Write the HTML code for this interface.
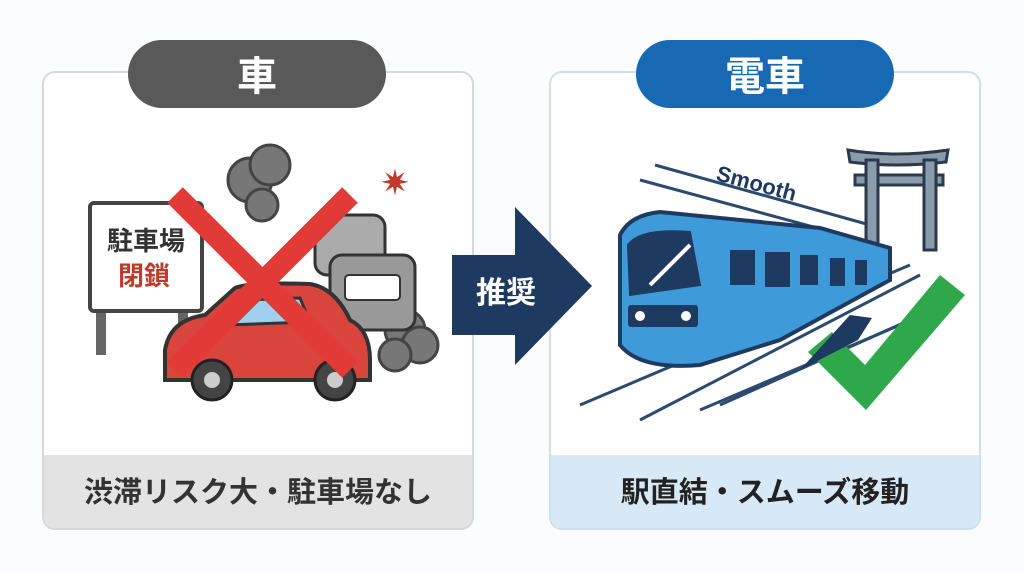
<!DOCTYPE html>
<html><head><meta charset="utf-8"><style>
html,body{margin:0;padding:0;background:#fff;}
body{width:1024px;height:572px;overflow:hidden;position:relative;font-family:"Liberation Sans","Noto Sans CJK JP",sans-serif;}
svg{position:absolute;left:0;top:0;}
</style></head><body>
<svg width="1024" height="572" viewBox="0 0 1024 572" xmlns="http://www.w3.org/2000/svg" font-family="Liberation Sans, Noto Sans CJK JP, sans-serif">
<rect width="1024" height="572" fill="#fbfcfd"/>
<!-- left panel -->
<rect x="43" y="72" width="430" height="457" rx="12" fill="#fff" stroke="#d8d8d8" stroke-width="2"/>
<path d="M44 455 H472 V517 a11 11 0 0 1 -11 11 H55 a11 11 0 0 1 -11 -11 Z" fill="#e3e3e3"/>
<text x="258" y="502" font-size="29" font-weight="bold" fill="#333" text-anchor="middle">渋滞リスク大・駐車場なし</text>
<rect x="128" y="40" width="258" height="68" rx="34" fill="#595959"/>
<text x="257" y="90" font-size="40" font-weight="bold" fill="#fff" text-anchor="middle">車</text>
<!-- sign -->
<rect x="96" y="300" width="10" height="55" fill="#666"/><rect x="178" y="300" width="10" height="55" fill="#666"/>
<rect x="90" y="203" width="112" height="108" rx="4" fill="#fff" stroke="#444" stroke-width="4"/>
<text x="146" y="250" font-size="26" font-weight="bold" fill="#333" text-anchor="middle">駐車場</text>
<text x="144" y="285" font-size="26" font-weight="bold" fill="#c0392b" text-anchor="middle">閉鎖</text>
<!-- smoke -->
<g fill="#777" stroke="#444" stroke-width="3">
<circle cx="250" cy="180" r="22"/><circle cx="270" cy="165" r="20"/><circle cx="262" cy="205" r="16"/>
<circle cx="405" cy="330" r="20"/><circle cx="420" cy="345" r="18"/><circle cx="395" cy="355" r="16"/>
</g>
<text x="395" y="195" font-size="36" fill="#c0392b" text-anchor="middle">✷</text>
<!-- back cars -->
<rect x="315" y="215" width="70" height="60" rx="12" fill="#aaa" stroke="#333" stroke-width="3"/>
<rect x="330" y="255" width="85" height="75" rx="12" fill="#999" stroke="#333" stroke-width="3"/>
<rect x="345" y="275" width="55" height="25" rx="4" fill="#fff" stroke="#333" stroke-width="2"/>
<!-- red car -->
<path d="M165 350 Q170 320 205 315 L235 288 Q250 282 310 284 Q335 288 350 320 Q370 330 370 360 L370 380 L165 380 Z" fill="#d9443c" stroke="#333" stroke-width="4"/>
<path d="M245 300 L300 298 L310 322 L225 325 Z" fill="#9fd0ef" stroke="#333" stroke-width="3"/>
<circle cx="212" cy="380" r="20" fill="#444" stroke="#222" stroke-width="3"/><circle cx="212" cy="380" r="8" fill="#ccc"/>
<circle cx="335" cy="380" r="20" fill="#444" stroke="#222" stroke-width="3"/><circle cx="335" cy="380" r="8" fill="#ccc"/>
<!-- X -->
<g stroke="#e23a36" stroke-width="22" stroke-linecap="butt">
<line x1="175" y1="195" x2="350" y2="370"/><line x1="350" y1="195" x2="175" y2="370"/>
</g>
<!-- right panel -->
<rect x="550" y="72" width="430" height="457" rx="12" fill="#fff" stroke="#cde0ef" stroke-width="2"/>
<path d="M551 455 H979 V517 a11 11 0 0 1 -11 11 H562 a11 11 0 0 1 -11 -11 Z" fill="#d7e9f6"/>
<text x="765" y="502" font-size="29" font-weight="bold" fill="#222" text-anchor="middle">駅直結・スムーズ移動</text>
<rect x="636" y="40" width="258" height="68" rx="34" fill="#1769b3"/>
<text x="765" y="90" font-size="40" font-weight="bold" fill="#fff" text-anchor="middle">電車</text>
<!-- arrow -->
<path d="M452 255 H515 V207 L592 286 L515 365 V335 H452 Z" fill="#1f3a60"/>
<text x="506" y="303" font-size="30" font-weight="bold" fill="#fff" text-anchor="middle">推奨</text>
<!-- lines -->
<g stroke="#2b4a6e" stroke-width="3" fill="none">
<line x1="655" y1="165" x2="870" y2="225"/>
<line x1="640" y1="180" x2="880" y2="245"/>
<line x1="580" y1="405" x2="910" y2="265"/>
<line x1="640" y1="420" x2="920" y2="275"/>
<line x1="700" y1="410" x2="900" y2="325"/>
<line x1="720" y1="405" x2="910" y2="320"/>
</g>
<text x="715" y="180" font-size="22" font-weight="bold" fill="#1f3a60" transform="rotate(15 715 180)">Smooth</text>
<!-- torii -->
<g fill="#8a9bab" stroke="#2b3a4a" stroke-width="3">
<path d="M848 150 Q895 158 948 150 L946 162 Q895 168 850 162 Z"/>
<rect x="855" y="175" width="88" height="10"/>
<rect x="866" y="160" width="12" height="90"/><rect x="924" y="160" width="12" height="90"/>
</g>
<!-- train -->
<path d="M620 235 Q630 215 660 212 L820 228 L890 248 L890 280 L780 340 L700 365 Q640 370 620 345 Z" fill="#3f9ad9" stroke="#1f3a60" stroke-width="4"/>
<path d="M628 245 Q640 228 690 232 L700 285 L630 295 Z" fill="#1f3a60" stroke="#1f3a60" stroke-width="2"/>
<line x1="650" y1="285" x2="690" y2="245" stroke="#fff" stroke-width="4"/>
<rect x="628" y="305" width="70" height="22" rx="3" fill="#1f3a60"/>
<circle cx="640" cy="316" r="5" fill="#fff"/><circle cx="686" cy="316" r="5" fill="#fff"/>
<g fill="#1f3a60"><rect x="730" y="250" width="25" height="35"/><rect x="765" y="252" width="25" height="35"/><rect x="800" y="255" width="18" height="30"/><rect x="830" y="258" width="15" height="28"/><rect x="855" y="260" width="12" height="25"/></g>
<!-- check -->
<path d="M808 352 L832 332 L865 365 L940 275 L965 295 L866 410 Z" fill="#2ea84a"/>
<path d="M800 370 L850 315 L872 318 L858 340 Z" fill="#1f3a60"/>
</svg>
</body></html>
